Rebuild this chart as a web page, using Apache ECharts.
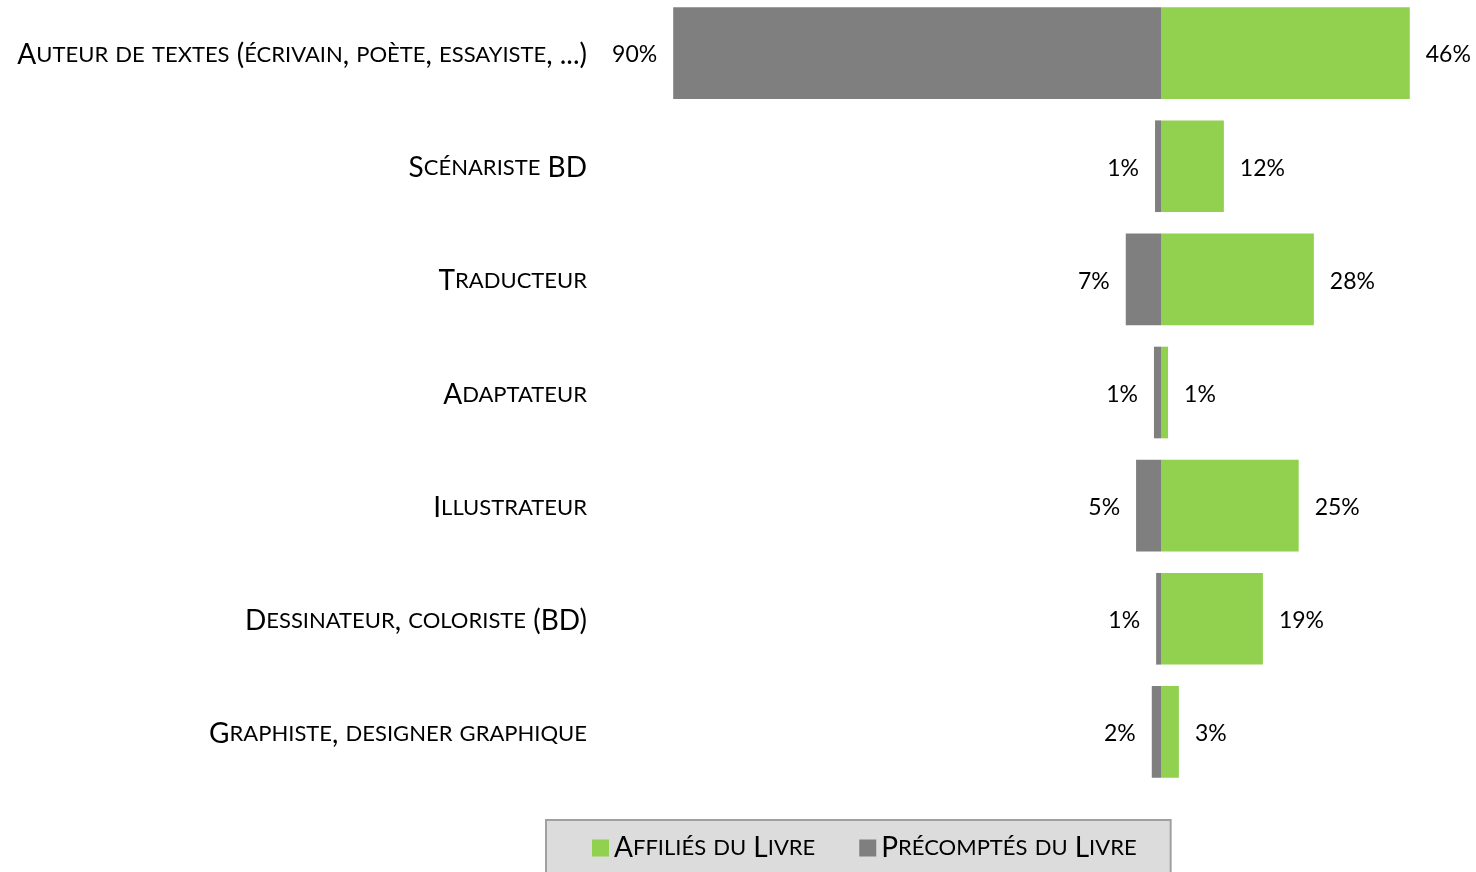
<!DOCTYPE html>
<html>
<head>
<meta charset="utf-8">
<script src="https://cdn.jsdelivr.net/npm/echarts@6/dist/echarts.min.js"></script>
<style>
  html, body { margin: 0; padding: 0; background: #fff; }
  #chart { width: 1476px; height: 872px; }
</style>
</head>
<body>
<div id="chart"></div>
<script>
const categories = [
	'Auteur de textes (écrivain, poète, essayiste, ...)',
	'Scénariste BD',
	'Traducteur',
	'Adaptateur',
	'Illustrateur',
	'Dessinateur, coloriste (BD)',
	'Graphiste, designer graphique',
];
const affilies = [45.9, 11.6, 28.2, 1.3, 25.4, 18.8, 3.3];
const precomptes = [90.0, 1.1, 6.5, 1.3, 4.6, 0.9, 1.7];
const seriesNames = ['Affiliés du Livre', 'Précomptés du Livre'];

const GREEN = '#92d050';
const GREY = '#7f7f7f';
const FONT = 'Lato';

// fake small caps: lowercase letters become smaller uppercase
const smallCaps = (s) => {
	let out = '';
	let cur = null;
	let buf = '';
	for (const ch of s) {
		const t = ch !== ch.toUpperCase() ? 's' : 'b';
		if (t !== cur && buf) {
			out += `{${cur}|${buf.toUpperCase()}}`;
			buf = '';
		}
		cur = t;
		buf += ch;
	}
	if (buf) out += `{${cur}|${buf.toUpperCase()}}`;
	return out;
};

const capsRich = {
	b: { fontFamily: FONT, fontSize: 28, color: '#000' },
	s: { fontFamily: FONT, fontSize: 22, color: '#000' },
};

const myChart = echarts.init(document.getElementById('chart'), null, { renderer: 'canvas' });

const option = {
	animation: false,
	grid: {
		left: 619,
		width: 813,
		top: -3.5,
		height: 792,
		containLabel: false,
		outerBoundsMode: 'none',
	},
	legend: {
		data: seriesNames,
		left: 546,
		top: 820,
		padding: [14, 34, 30, 46],
		itemWidth: 17,
		itemHeight: 17,
		itemGap: 44,
		icon: 'rect',
		backgroundColor: '#dcdcdc',
		borderColor: '#a0a0a0',
		borderWidth: 2,
		formatter: (name) => smallCaps(name),
		textStyle: { rich: capsRich },
	},
	xAxis: {
		type: 'value',
		min: -100,
		max: 50,
		show: false,
	},
	yAxis: {
		type: 'category',
		data: categories,
		inverse: true,
		axisLine: { show: false },
		axisTick: { show: false },
		axisLabel: {
			margin: 32,
			padding: [4, 0, 0, 0],
			formatter: (v) => smallCaps(v),
			rich: capsRich,
		},
	},
	series: [
		{
			name: seriesNames[0],
			type: 'bar',
			stack: 'total',
			barCategoryGap: '19%',
			itemStyle: { color: GREEN },
			data: affilies,
			label: {
				show: true,
				position: 'right',
				distance: 16,
				offset: [0, 2],
				fontFamily: FONT,
				fontSize: 23,
				color: '#000',
				formatter: (p) => Math.round(p.value) + '%',
			},
		},
		{
			name: seriesNames[1],
			type: 'bar',
			stack: 'total',
			barCategoryGap: '19%',
			itemStyle: { color: GREY },
			data: precomptes.map((v) => -v),
			label: {
				show: true,
				position: 'left',
				distance: 16,
				offset: [0, 2],
				fontFamily: FONT,
				fontSize: 23,
				color: '#000',
				formatter: (p) => Math.round(-p.value) + '%',
			},
		},
	],
};
myChart.setOption(option);
</script>
</body>
</html>
